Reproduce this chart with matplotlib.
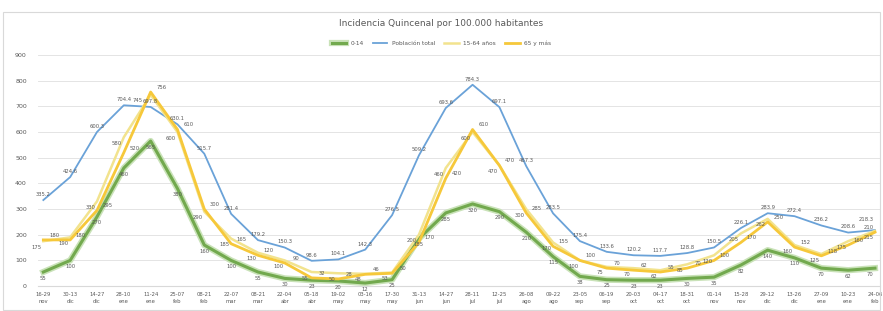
import matplotlib.pyplot as plt
import matplotlib.patheffects as pe
from matplotlib.patches import Rectangle

# fortnights (two-line tick labels)
periods = ["16-29\nnov", "30-13\ndic", "14-27\ndic", "28-10\nene", "11-24\nene", "25-07\nfeb",
           "08-21\nfeb", "22-07\nmar", "08-21\nmar", "22-04\nabr", "05-18\nabr", "19-02\nmay",
           "03-16\nmay", "17-30\nmay", "31-13\njun", "14-27\njun", "28-11\njul", "12-25\njul",
           "26-08\nago", "09-22\nago", "23-05\nsep", "06-19\nsep", "20-03\noct", "04-17\noct",
           "18-31\noct", "01-14\nnov", "15-28\nnov", "29-12\ndic", "13-26\ndic", "27-09\nene",
           "10-23\nene", "24-06\nfeb"]

names = ["0-14", "Población total", "15-64 años", "65 y más"]

green = [55, 100, 270, 460, 565, 380, 160, 100, 55, 30, 23, 20, 12, 25, 185, 285,
         320, 290, 210, 115, 38, 25, 23, 23, 30, 35, 82, 140, 110, 70, 62, 70]
blue = [335.2, 424.6, 600.3, 704.4, 697.8, 630.1, 515.7, 281.4, 179.2, 150.3, 98.6, 104.1,
        142.3, 276.5, 509.2, 693.6, 784.3, 697.1, 467.3, 283.5, 175.4, 133.6, 120.2, 117.7,
        128.8, 150.5, 226.1, 283.9, 272.4, 236.2, 208.6, 218.3]
pale = [175, 190, 330, 580, 745, 600, 290, 185, 130, 100, 55, 50, 48, 53, 200, 460,
        600, 470, 300, 170, 100, 75, 70, 62, 85, 120, 205, 262, 160, 125, 175, 215]
gold = [180, 180, 295, 520, 756, 610, 300, 165, 120, 90, 32, 28, 46, 50, 170, 420,
        610, 470, 285, 155, 100, 70, 62, 55, 70, 100, 170, 250, 152, 118, 160, 210]

x = list(range(len(periods)))
last = len(periods) - 1

fig = plt.figure(figsize=(8.83, 3.11), dpi=100)
ax = fig.add_axes([0.043, 0.080, 0.954, 0.743])

# chart border
fig.patches.append(Rectangle((0.003, 0.003), 0.994, 0.96, transform=fig.transFigure,
                             fill=False, edgecolor="#D9D9D9", linewidth=0.8))

ax.plot(x, green, color="#72A94E", linewidth=2.2, label=names[0],
        path_effects=[pe.Stroke(linewidth=4.5, foreground="#C9E2B8"), pe.Normal()])
ax.plot(x, blue, color="#6AA2D8", linewidth=1.3, label=names[1])
ax.plot(x, pale, color="#F2E38E", linewidth=1.8, label=names[2])
ax.plot(x, gold, color="#F6C83A", linewidth=2.0, label=names[3])

lab = dict(fontsize=3.8, color="#595959")
for i in x:
    ha = "right" if i == last else "center"
    dx = -0.05 if i == last else 0
    blue_up = 32 if i == last else 12
    ax.text(i + dx, blue[i] + blue_up, f"{blue[i]:.1f}", va="bottom", ha=ha, **lab)
    ax.text(i + (dx if i == last else 0.4), gold[i] + 8, f"{gold[i]}", va="bottom", ha=ha, **lab)
    pdx = dx if i == last else (-0.5 if i == 4 else -0.25)
    ax.text(i + pdx, pale[i] - 14, f"{pale[i]}", va="top", ha=ha, **lab)
    ax.text(i + dx, green[i] - 14, f"{green[i]}", va="top", ha=ha, **lab)

ax.set_xlim(-0.2, len(periods) - 0.8)
ax.set_ylim(0, 900)
ax.set_yticks(range(0, 901, 100))
ax.set_xticks(x)
ax.set_xticklabels(periods, fontsize=3.8, color="#595959", linespacing=1.7)
ax.tick_params(axis="y", labelsize=4.5, colors="#595959", length=0, pad=8)
ax.tick_params(axis="x", length=0, pad=4)
ax.grid(axis="y", color="#E4E4E4", linewidth=0.7)
ax.set_axisbelow(True)
for s in ["top", "right", "left"]:
    ax.spines[s].set_visible(False)
ax.spines["bottom"].set_color("#D9D9D9")

fig.text(0.5, 0.925, "Incidencia Quincenal por 100.000 habitantes", ha="center",
         va="center", fontsize=6.5, color="#595959")
fig.legend(loc="center", bbox_to_anchor=(0.5, 0.862), ncol=4, fontsize=4.2,
           frameon=False, handlelength=2.5, columnspacing=1.5, labelcolor="#595959")

fig.savefig("out.png", dpi=100, facecolor="white")
